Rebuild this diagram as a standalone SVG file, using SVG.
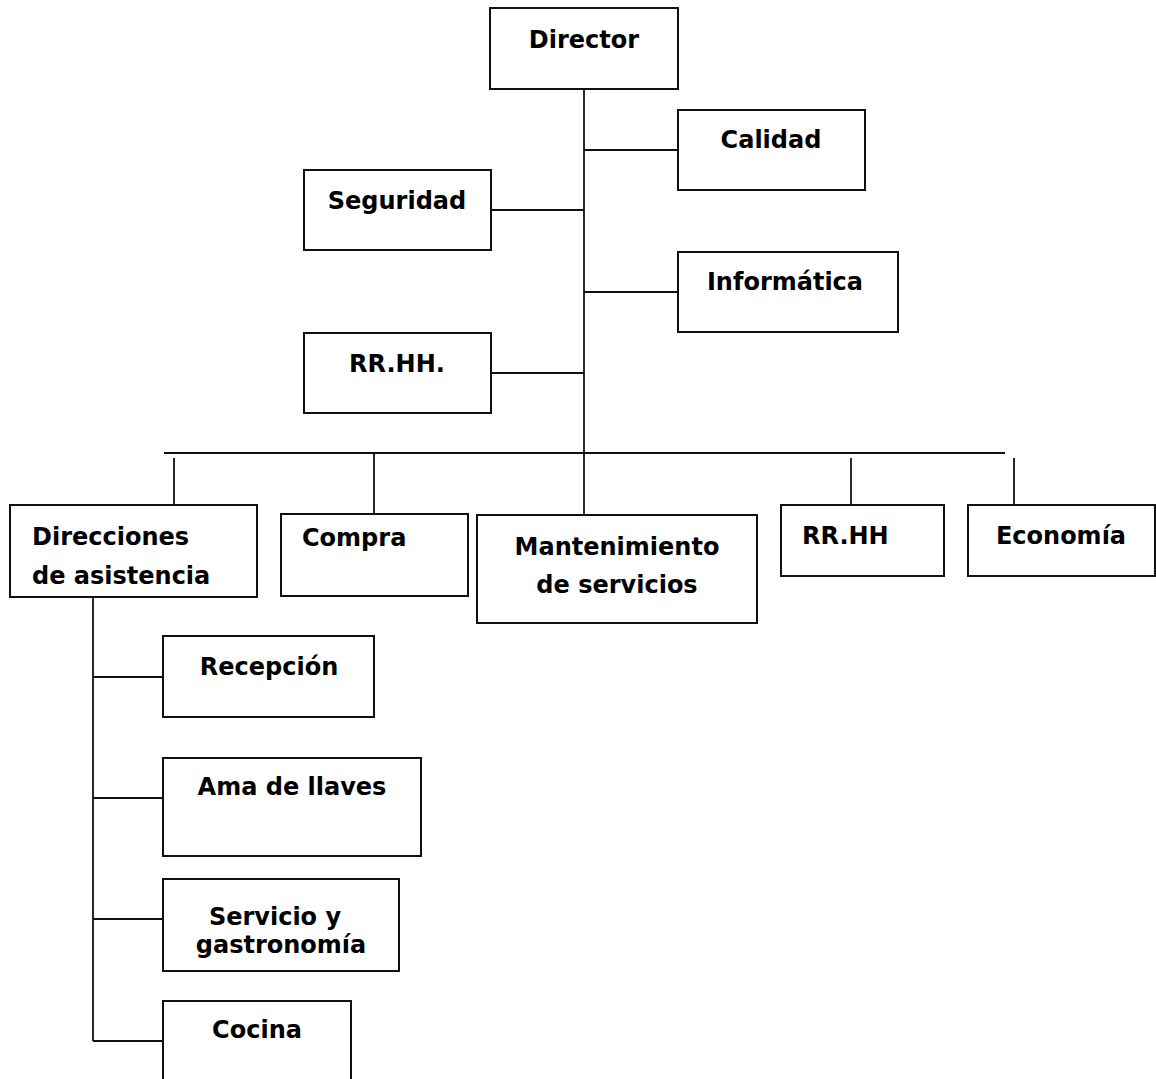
<svg xmlns="http://www.w3.org/2000/svg" width="1156" height="1079" viewBox="0 0 1156 1079">
<style>
.box{fill:#fff;stroke:#111;stroke-width:2}
.ln{stroke:#111;stroke-width:1.8;fill:none}
text{font-family:"DejaVu Sans","Liberation Sans",sans-serif;font-weight:bold;font-size:24px;fill:#000}
.c{text-anchor:middle}
</style>
<rect width="1156" height="1079" fill="#fff"/>
<g id="connectors">
<line class="ln" x1="584" y1="89" x2="584" y2="515"/>
<line class="ln" x1="584" y1="150" x2="678" y2="150"/>
<line class="ln" x1="491" y1="210" x2="584" y2="210"/>
<line class="ln" x1="584" y1="292" x2="678" y2="292"/>
<line class="ln" x1="491" y1="373" x2="584" y2="373"/>
<line class="ln" x1="164" y1="453" x2="1005" y2="453"/>
<line class="ln" x1="174" y1="458" x2="174" y2="505"/>
<line class="ln" x1="374" y1="453" x2="374" y2="514"/>
<line class="ln" x1="851" y1="458" x2="851" y2="505"/>
<line class="ln" x1="1014" y1="458" x2="1014" y2="505"/>
<line class="ln" x1="93" y1="597" x2="93" y2="1041"/>
<line class="ln" x1="93" y1="677" x2="163" y2="677"/>
<line class="ln" x1="93" y1="798" x2="163" y2="798"/>
<line class="ln" x1="93" y1="919" x2="163" y2="919"/>
<line class="ln" x1="93" y1="1041" x2="163" y2="1041"/>
</g>
<g id="director"><rect class="box" x="490" y="8" width="188" height="81"/><text class="c" x="584" y="48">Director</text></g>
<g id="calidad"><rect class="box" x="678" y="110" width="187" height="80"/><text class="c" x="771" y="148">Calidad</text></g>
<g id="seguridad"><rect class="box" x="304" y="170" width="187" height="80"/><text class="c" x="397" y="209">Seguridad</text></g>
<g id="informatica"><rect class="box" x="678" y="252" width="220" height="80"/><text class="c" x="785" y="290">Informática</text></g>
<g id="rrhh1"><rect class="box" x="304" y="333" width="187" height="80"/><text class="c" x="397" y="372">RR.HH.</text></g>
<g id="direcciones"><rect class="box" x="10" y="505" width="247" height="92"/><text x="32" y="545">Direcciones</text><text x="32" y="584">de asistencia</text></g>
<g id="compra"><rect class="box" x="281" y="514" width="187" height="82"/><text x="302" y="546">Compra</text></g>
<g id="mantenimiento"><rect class="box" x="477" y="515" width="280" height="108"/><text class="c" x="617" y="555">Mantenimiento</text><text class="c" x="617" y="593">de servicios</text></g>
<g id="rrhh2"><rect class="box" x="781" y="505" width="163" height="71"/><text x="802" y="544">RR.HH</text></g>
<g id="economia"><rect class="box" x="968" y="505" width="187" height="71"/><text class="c" x="1061" y="544">Economía</text></g>
<g id="recepcion"><rect class="box" x="163" y="636" width="211" height="81"/><text class="c" x="269" y="675">Recepción</text></g>
<g id="ama"><rect class="box" x="163" y="758" width="258" height="98"/><text class="c" x="292" y="795">Ama de llaves</text></g>
<g id="servicio"><rect class="box" x="163" y="879" width="236" height="92"/><text class="c" x="275" y="925">Servicio y</text><text class="c" x="281" y="953">gastronomía</text></g>
<g id="cocina"><rect class="box" x="163" y="1001" width="188" height="100"/><text class="c" x="257" y="1038">Cocina</text></g>
</svg>
